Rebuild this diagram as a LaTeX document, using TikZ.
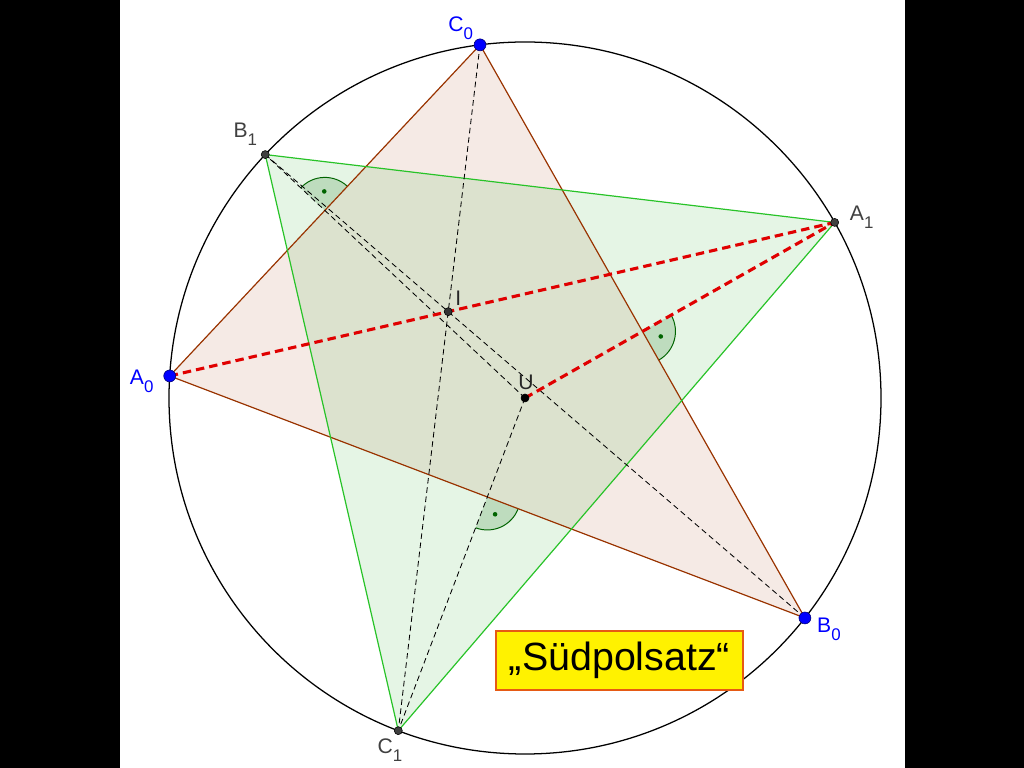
\documentclass[tikz,border=0pt]{standalone}
\usepackage{fontspec}
\setmainfont{Liberation Sans}
\usetikzlibrary{calc}
\definecolor{sidebrown}{RGB}{153,51,0}
\definecolor{sidegreen}{RGB}{40,195,40}
\definecolor{fillgreen}{RGB}{0,153,0}
\definecolor{markgreen}{RGB}{0,100,0}
\definecolor{ptblue}{RGB}{0,0,255}
\definecolor{lblgray}{RGB}{64,64,64}
\definecolor{boxorange}{RGB}{230,90,20}
\tikzset{
    pt/.style={draw=black, fill=#1, circle, inner sep=0pt, minimum size=5.7pt, line width=0.4pt},
    pt/.default={lblgray},
    basept/.style={draw=ptblue!45!black, fill=ptblue, circle, inner sep=0pt, minimum size=8.5pt, line width=0.4pt},
    lbl/.style={text=#1, inner sep=0pt, anchor=base west, font=\fontsize{15}{15}\selectfont},
    lbl/.default={lblgray},
    helper/.style={dash pattern=on 4pt off 2.6pt, line width=0.6pt},
    bisect/.style={draw=red!88!black, dash pattern=on 6pt off 3.6pt, line width=2.2pt},
    rightmark/.style={fill=markgreen, fill opacity=0.17},
    titlebox/.style={draw=boxorange, line width=1.4pt, fill=yellow, minimum width=175.7pt, minimum height=42pt, font=\fontsize{28}{28}\selectfont}
}
\newcommand{\ptname}[2]{#1\raisebox{-5.5pt}{\fontsize{12}{12}\selectfont #2}}

\begin{document}
\begin{tikzpicture}[x=0.025cm, y=0.025cm]
    \useasboundingbox (0,0) rectangle (1024,768);
    \fill[black] (0,0) rectangle (120,768);
    \fill[black] (905,0) rectangle (1024,768);
    \def\R{356}
    % triangle and south poles on the circumcircle
    \coordinate (U) at (525,370);
    \coordinate (A0) at ($(U)+(176.45:\R)$);
    \coordinate (B0) at ($(U)+(-38.16:\R)$);
    \coordinate (C0) at ($(U)+(97.26:\R)$);
    \coordinate (A1) at ($(U)+(29.55:\R)$);
    \coordinate (B1) at ($(U)+(136.86:\R)$);
    \coordinate (C1) at ($(U)+(249.15:\R)$);
    \coordinate (I) at (intersection of A0--A1 and B0--B1);
    \coordinate (Ma) at ($(B0)!0.5!(C0)$);
    \coordinate (Mb) at ($(C0)!0.5!(A0)$);
    \coordinate (Mc) at ($(A0)!0.5!(B0)$);
    \fill[sidebrown, fill opacity=0.1] (A0) -- (B0) -- (C0) -- cycle;
    \fill[fillgreen, fill opacity=0.1] (A1) -- (B1) -- (C1) -- cycle;
    % right angles
    \fill[rightmark] (Ma) -- ++(-60.45:33) arc[start angle=-60.45, end angle=29.55, radius=33] -- cycle;
    \fill[rightmark] (Mb) -- ++(46.86:33) arc[start angle=46.86, end angle=136.86, radius=33] -- cycle;
    \fill[rightmark] (Mc) -- ++(249.15:33) arc[start angle=249.15, end angle=339.15, radius=33] -- cycle;
    \draw[markgreen, line width=0.7pt] ($(Ma)+(-60.45:33)$) arc[start angle=-60.45, end angle=29.55, radius=33];
    \draw[markgreen, line width=0.7pt] ($(Mb)+(46.86:33)$) arc[start angle=46.86, end angle=136.86, radius=33];
    \draw[markgreen, line width=0.7pt] ($(Mc)+(249.15:33)$) arc[start angle=249.15, end angle=339.15, radius=33];
    \fill[markgreen] ($(Ma)+(-15.45:19)$) circle[radius=2.3];
    \fill[markgreen] ($(Mb)+(91.86:19)$) circle[radius=2.3];
    \fill[markgreen] ($(Mc)+(294.15:19)$) circle[radius=2.3];
    % sides
    \draw[sidebrown, line width=0.85pt] (A0) -- (B0) -- (C0) -- cycle;
    \draw[sidegreen, line width=0.85pt] (A1) -- (B1) -- (C1) -- cycle;
    \draw[line width=0.9pt] (U) circle[radius=\R];
    \draw[helper] (C0) -- (C1);
    \draw[helper] (B1) -- (B0);
    \draw[helper] (U) -- (B1);
    \draw[helper] (U) -- (C1);
    \draw[bisect] (A0) -- (A1);
    \draw[bisect] (U) -- (A1);
    % points
    \node[basept] (pA0) at (A0) {};
    \node[basept] (pB0) at (B0) {};
    \node[basept] (pC0) at (C0) {};
    \node[pt] (pA1) at (A1) {};
    \node[pt] (pB1) at (B1) {};
    \node[pt] (pC1) at (C1) {};
    \node[pt=black!80] (pI) at (I) {};
    \node[pt=black] (pU) at (U) {};
    \node[lbl=ptblue] (lA0) at ($(A0)+(-40,-9)$) {\ptname{A}{0}};
    \node[lbl=ptblue] (lB0) at ($(B0)+(12,-15)$) {\ptname{B}{0}};
    \node[lbl=ptblue] (lC0) at ($(C0)+(-32,13)$) {\ptname{C}{0}};
    \node[lbl] (lA1) at ($(A1)+(15,2)$) {\ptname{A}{1}};
    \node[lbl] (lB1) at ($(B1)+(-32,17)$) {\ptname{B}{1}};
    \node[lbl] (lC1) at ($(C1)+(-21,-23)$) {\ptname{C}{1}};
    \node[lbl=black!85] (lI) at ($(I)+(7,6)$) {I};
    \node[lbl=black!85] (lU) at ($(U)+(-7,8)$) {U};
    \node[titlebox] (title) at (619.5,107.5) {„Südpolsatz“};
\end{tikzpicture}
\end{document}
